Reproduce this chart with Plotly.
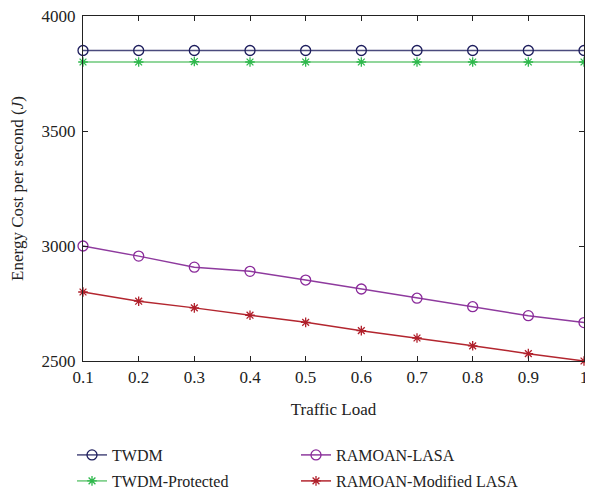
import plotly.graph_objects as go

traffic_load = [0.1, 0.2, 0.3, 0.4, 0.5, 0.6, 0.7, 0.8, 0.9, 1.0]
twdm = [3850, 3850, 3850, 3850, 3850, 3850, 3850, 3850, 3850, 3850]
twdm_protected = [3800, 3800, 3802, 3800, 3800, 3800, 3800, 3800, 3800, 3800]
ramoan_lasa = [3000, 2956, 2908, 2890, 2852, 2813, 2773, 2736, 2697, 2667]
ramoan_mod_lasa = [2800, 2760, 2731, 2699, 2668, 2632, 2600, 2566, 2532, 2500]

x_ticks = [0.1, 0.2, 0.3, 0.4, 0.5, 0.6, 0.7, 0.8, 0.9, 1.0]
x_tick_labels = ["0.1", "0.2", "0.3", "0.4", "0.5", "0.6", "0.7", "0.8", "0.9", "1"]
y_ticks = [2500, 3000, 3500, 4000]

FONT = "Liberation Serif, Times New Roman, serif"
TXT = "#222222"

fig = go.Figure()

def add(name, y, line_color, marker_color, symbol, size, legend):
    fig.add_trace(go.Scatter(
        x=traffic_load, y=y, name=name, mode="lines+markers",
        line=dict(color=line_color, width=1.5),
        marker=dict(symbol=symbol, size=size, color=marker_color,
                    line=dict(color=marker_color, width=1.3)),
        legend=legend, cliponaxis=False, showlegend=True,
    ))

add("TWDM", twdm, "#4b4b7d", "#1c1c5c", "circle-open", 10, "legend")
add("TWDM-Protected", twdm_protected, "#6cc97a", "#2eb84c", "asterisk-open", 8, "legend3")
add("RAMOAN-LASA", ramoan_lasa, "#8e3a9e", "#8a2a9a", "circle-open", 10, "legend2")
add("RAMOAN-Modified LASA", ramoan_mod_lasa, "#b3262f", "#b01f2a", "asterisk-open", 8, "legend4")

axis_common = dict(
    showline=True, linecolor="#222222", linewidth=1.2, mirror="ticks",
    ticks="inside", ticklen=5, tickcolor="#222222", showgrid=False, zeroline=False,
    tickfont=dict(family=FONT, size=17, color=TXT), automargin=False,
    ticklabeloverflow="allow",
)

def leg(x, y):
    return dict(x=x, y=y, xanchor="left", yanchor="middle", orientation="v",
                font=dict(family=FONT, size=16, color=TXT), tracegroupgap=0,
                itemwidth=30, bgcolor="rgba(0,0,0,0)", visible=True)

# The page is drawn with an 8 px body margin, so the figure is sized to fit.
# plot area on screen: x 83..584 (501 px), y 16..361 (345 px)
def px_x(p):
    return (p - 83) / 501
def px_y(p):
    return (361 - p) / 345

fig.update_layout(
    width=585, height=483,
    margin=dict(l=75, r=9, t=8, b=130, autoexpand=False),
    showlegend=True,
    plot_bgcolor="white", paper_bgcolor="white",
    font=dict(family=FONT, size=16, color=TXT),
    xaxis=dict(range=[0.1, 1.0], tickvals=x_ticks, ticktext=x_tick_labels,
               title=dict(text="Traffic Load", font=dict(family=FONT, size=17, color=TXT), standoff=17),
               **axis_common),
    yaxis=dict(range=[2500, 4000], tickvals=y_ticks, ticklabelstandoff=3,
               title=dict(text="Energy Cost per second (<i>J</i>)", font=dict(family=FONT, size=17, color=TXT), standoff=15),
               **axis_common),
    legend=leg(px_x(72), px_y(455)),
    legend2=leg(px_x(296), px_y(455)),
    legend3=leg(px_x(72), px_y(481)),
    legend4=leg(px_x(296), px_y(481)),
)

fig.write_html("out.html")
